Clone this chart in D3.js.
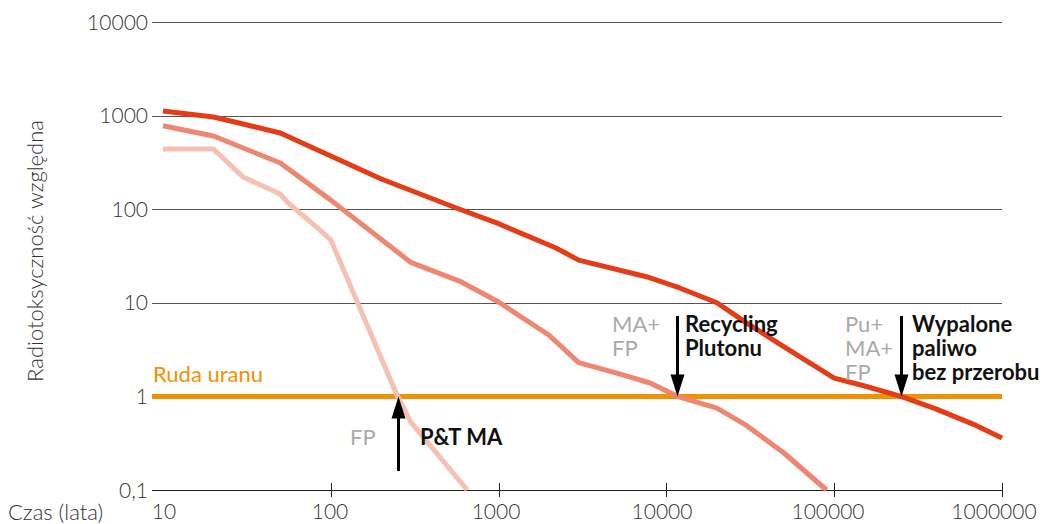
<!DOCTYPE html>
<html>
<head>
<meta charset="utf-8">
<script src="https://cdn.jsdelivr.net/npm/d3@7"></script>
<style>
  body { margin: 0; background: #fff; }
  svg { font-family: Lato, "Open Sans", sans-serif; }
  .tick-label { font-size: 21px; font-weight: 300; fill: #333; }
  .axis-title { font-size: 22px; font-weight: 300; fill: #333; }
  .note-gray { font-size: 22px; fill: #aaa; }
  .note-bold { font-size: 22px; font-weight: 700; fill: #111; }
</style>
</head>
<body>
<div id="chart"></div>
<script>
//////////////////////////////////////////////////////////////
/////////////////////////// Data /////////////////////////////
//////////////////////////////////////////////////////////////

var yTicks = [0.1, 1, 10, 100, 1000, 10000];
var yTickLabels = ["0,1", "1", "10", "100", "1000", "10000"];
var xTicks = [10, 100, 1000, 10000, 100000, 1000000];
var xTickLabels = ["10", "100", "1000", "10000", "100000", "1000000"];

// wypalone paliwo (Pu + MA + FP)
var totalYears = [10, 20, 30, 50, 100, 200, 560, 1000, 2200, 3000, 7600, 12000, 20000, 30000, 50000, 100000, 150000, 250000, 400000, 700000, 1000000];
var totalValues = [1120, 966, 813, 652, 370, 210, 103, 70, 38.5, 28.6, 19, 14.4, 10, 6.1, 3.4, 1.57, 1.3, 1.0, 0.74, 0.49, 0.36];

// po recyklingu plutonu (MA + FP)
var maYears = [10, 20, 50, 100, 300, 600, 1000, 2000, 3000, 5000, 8000, 12000, 20000, 30000, 50000, 90000];
var maValues = [780, 605, 312, 125, 27, 16.7, 10.2, 4.5, 2.3, 1.78, 1.39, 0.98, 0.75, 0.49, 0.25, 0.1];

// po P&T MA (FP)
var fpYears = [10, 20, 30, 50, 55, 86, 100, 250, 300, 650];
var fpValues = [440, 440, 221, 145, 119, 60, 47, 1.0, 0.53, 0.1];

var oreLevel = 1;

//////////////////////////////////////////////////////////////
////////////////////////// Setup /////////////////////////////
//////////////////////////////////////////////////////////////

var width = 1043, height = 524;
var plotLeft = 163, plotRight = 1002, plotTop = 22, plotBottom = 490;
var gridStart = 152;

var svg = d3.select("#chart").append("svg")
  .attr("width", width)
  .attr("height", height);

var x = d3.scaleLog().domain([10, 1000000]).range([plotLeft, plotRight]);
var y = d3.scaleLog().domain([0.1, 10000]).range([plotBottom, plotTop]);

//Gridlines
svg.selectAll(".grid")
  .data(yTicks.filter(function(d) { return d !== oreLevel; }))
  .enter().append("line")
  .attr("class", "grid")
  .attr("x1", gridStart).attr("x2", plotRight)
  .attr("y1", function(d) { return Math.round(y(d)) + 0.5; })
  .attr("y2", function(d) { return Math.round(y(d)) + 0.5; })
  .style("stroke", function(d) { return d === 0.1 ? "#222" : "#555"; })
  .style("stroke-width", 1);

//Y tick labels
svg.selectAll(".y-label")
  .data(yTicks)
  .enter().append("text")
  .attr("class", "tick-label")
  .attr("x", 148)
  .attr("y", function(d) { return y(d); })
  .attr("dy", "0.36em")
  .style("text-anchor", "end")
  .text(function(d, i) { return yTickLabels[i]; });

//X ticks
svg.selectAll(".x-tick")
  .data(xTicks.slice(1))
  .enter().append("line")
  .attr("x1", function(d) { return Math.round(x(d)) + 0.5; })
  .attr("x2", function(d) { return Math.round(x(d)) + 0.5; })
  .attr("y1", plotBottom - 7).attr("y2", plotBottom + 7)
  .style("stroke", "#222");

svg.selectAll(".x-label")
  .data(xTicks)
  .enter().append("text")
  .attr("class", "tick-label")
  .attr("x", function(d, i) { return x(d) + 1 - i * 1.8; })
  .attr("y", 519)
  .style("text-anchor", "middle")
  .text(function(d, i) { return xTickLabels[i]; });

//Axis titles
svg.append("text")
  .attr("class", "axis-title")
  .attr("x", 8).attr("y", 520)
  .text("Czas (lata)");

svg.append("text")
  .attr("class", "axis-title")
  .attr("transform", "translate(43,251) rotate(-90)")
  .style("text-anchor", "middle")
  .text("Radiotoksyczność względna");

//////////////////////////////////////////////////////////////
////////////////////////// Lines /////////////////////////////
//////////////////////////////////////////////////////////////

//Ruda uranu
svg.append("line")
  .attr("x1", gridStart).attr("x2", plotRight)
  .attr("y1", y(oreLevel)).attr("y2", y(oreLevel))
  .style("stroke", "#f39200")
  .style("stroke-width", 5);

svg.append("text")
  .attr("x", 153).attr("y", 382)
  .style("font-size", "22px")
  .style("fill", "#f39200")
  .text("Ruda uranu");

var line = d3.line()
  .x(function(d) { return x(d[0]); })
  .y(function(d) { return y(d[1]); });

var series = [
  {years: fpYears, values: fpValues, color: "#f6c0b2"},
  {years: maYears, values: maValues, color: "#ee8670"},
  {years: totalYears, values: totalValues, color: "#e63c16"}
];

svg.selectAll(".curve")
  .data(series)
  .enter().append("path")
  .attr("class", "curve")
  .attr("d", function(s) { return line(d3.zip(s.years, s.values)); })
  .style("fill", "none")
  .style("stroke", function(s) { return s.color; })
  .style("stroke-width", 5)
  .style("stroke-linejoin", "round");

//////////////////////////////////////////////////////////////
/////////////////////// Annotations //////////////////////////
//////////////////////////////////////////////////////////////

var notes = [
  {year: 250, up: true, gray: ["FP"], bold: ["P&T MA"], grayX: 350, boldX: 420, textY: 445},
  {year: 11500, up: false, gray: ["MA+", "FP"], bold: ["Recycling", "Plutonu"], grayX: 612, boldX: 685, textY: 332},
  {year: 250000, up: false, gray: ["Pu+", "MA+", "FP"], bold: ["Wypalone", "paliwo", "bez przerobu"], grayX: 845, boldX: 912, textY: 332}
];

notes.forEach(function(n) {
  var ax = Math.round(x(n.year)) + 0.5;
  var tipY = y(oreLevel);
  svg.append("line")
    .attr("x1", ax).attr("x2", ax)
    .attr("y1", n.up ? 471 : 316)
    .attr("y2", n.up ? tipY + 18 : tipY - 18)
    .style("stroke", "#000")
    .style("stroke-width", 3);
  var h = 22, w = 7;
  var dir = n.up ? 1 : -1;
  svg.append("path")
    .attr("d", "M" + ax + "," + tipY +
      " L" + (ax - w) + "," + (tipY + dir * h) +
      " L" + (ax + w) + "," + (tipY + dir * h) + " Z")
    .style("fill", "#000");

  n.gray.forEach(function(t, i) {
    svg.append("text").attr("class", "note-gray")
      .attr("x", n.grayX).attr("y", n.textY + i * 24)
      .text(t);
  });
  n.bold.forEach(function(t, i) {
    svg.append("text").attr("class", "note-bold")
      .attr("x", n.boldX).attr("y", n.textY + i * 24)
      .text(t);
  });
});
</script>
</body>
</html>
